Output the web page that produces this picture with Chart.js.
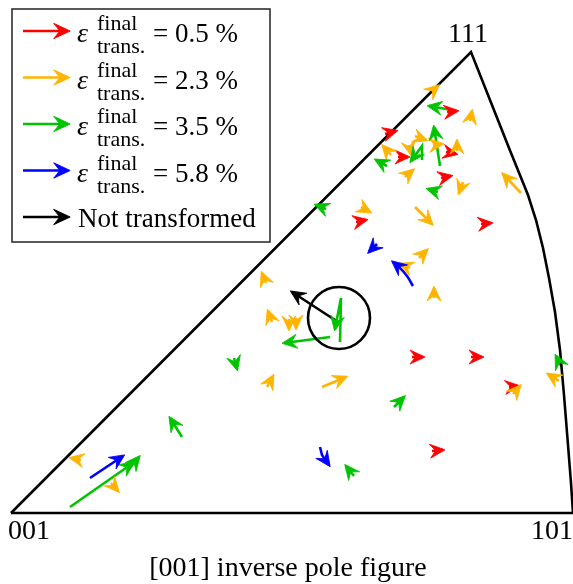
<!DOCTYPE html>
<html>
<head>
<meta charset="utf-8">
<script src="https://cdn.jsdelivr.net/npm/chart.js@4.4.0/dist/chart.umd.min.js"></script>
<style>
body { margin: 0; background: #fff; }
canvas { display: block; }
</style>
</head>
<body>
<canvas id="ipf" width="573" height="584"></canvas>
<script>
// Figure units: x to the right, y downwards
const boundaryX = [11, 471, 490, 509, 528, 536, 543, 549, 555, 560, 564, 568, 571, 573, 11];
const boundaryY = [513, 52, 100, 148, 195, 220, 248, 278, 312, 350, 395, 445, 483, 513, 513];

const legendLabels = ["0.5 %", "2.3 %", "3.5 %", "5.8 %", "Not transformed"];

// every arrow is a path [[x, y], ...], the head sits on the last point
const arrows05 = [
    [[447, 112], [457, 111]],
    [[385, 134], [396, 131]],
    [[398, 157], [408, 157]],
    [[446, 152], [456, 154]],
    [[441, 178], [451, 176]],
    [[356, 222], [366, 220]],
    [[481, 224], [491, 223]],
    [[412, 357], [423, 357]],
    [[471, 357], [482, 357]],
    [[509, 387], [518, 386]],
    [[432, 451], [443, 450]]
];
const arrows23 = [
    [[430, 93], [438, 86]],
    [[470, 121], [472, 111]],
    [[391, 155], [383, 146]],
    [[415, 136], [426, 140]],
    [[409, 145], [411, 154]],
    [[433, 145], [442, 144]],
    [[457, 151], [457, 141]],
    [[405, 177], [413, 170]],
    [[463, 182], [459, 193]],
    [[521, 193], [503, 174]],
    [[361, 207], [370, 212]],
    [[415, 207], [432, 224]],
    [[410, 268], [400, 264]],
    [[419, 258], [427, 250]],
    [[434, 298], [434, 288]],
    [[266, 283], [262, 273]],
    [[272, 322], [268, 311]],
    [[289, 319], [289, 329]],
    [[296, 318], [296, 328]],
    [[267, 387], [273, 376]],
    [[322, 387], [346, 377]],
    [[513, 394], [520, 386]],
    [[559, 381], [548, 374]],
    [[81, 460], [71, 458]],
    [[111, 483], [118, 491]]
];
const arrows35 = [
    [[452, 110], [429, 106]],
    [[387, 166], [376, 160]],
    [[422, 160], [422, 146], [411, 161]],
    [[440, 166], [434, 127]],
    [[438, 192], [428, 189]],
    [[326, 209], [316, 205]],
    [[340, 342], [341, 298], [335, 329]],
    [[330, 337], [284, 343]],
    [[234, 358], [237, 369]],
    [[394, 407], [404, 397]],
    [[561, 366], [556, 356]],
    [[354, 476], [346, 466]],
    [[182, 437], [170, 418]],
    [[70, 507], [133, 463]],
    [[129, 469], [139, 457]]
];
const arrows58 = [
    [[377, 244], [369, 252]],
    [[413, 286], [407, 276], [399, 267], [393, 262]],
    [[320, 447], [322, 455], [329, 465]],
    [[90, 478], [123, 456]]
];
const arrowsNone = [
    [[338, 322], [292, 292]]
];
const markedGrain = [[339, 318]];

const seriesArrows = [arrows05, arrows23, arrows35, arrows58, arrowsNone];
const seriesColors = ["#ff0000", "#ffb400", "#00c400", "#0000ff", "#000000"];

function drawHead(ctx, x, y, angle, color, size) {
    let s = size || 1;
    ctx.save();
    ctx.translate(x, y);
    ctx.rotate(angle);
    ctx.scale(s, s);
    ctx.fillStyle = color;
    ctx.strokeStyle = color;
    ctx.lineWidth = 0.8;
    ctx.lineJoin = "round";
    ctx.beginPath();
    ctx.moveTo(2, 0);
    ctx.lineTo(-13, -7);
    ctx.lineTo(-7.5, 0);
    ctx.lineTo(-13, 7);
    ctx.closePath();
    ctx.fill();
    ctx.stroke();
    ctx.restore();
}

let datasets = [];
datasets.push({
    data: boundaryX.map((x, i) => ({ x: x, y: boundaryY[i] })),
    showLine: true,
    borderColor: "#000",
    borderWidth: 2.6,
    pointRadius: 0,
    clip: false
});
datasets.push({
    data: markedGrain.map(p => ({ x: p[0], y: p[1] })),
    pointRadius: 31,
    pointBorderWidth: 2.6,
    pointBorderColor: "#000",
    pointBackgroundColor: "rgba(0,0,0,0)",
    clip: false
});
seriesArrows.forEach((list, k) => {
    list.forEach(path => {
        datasets.push({
            data: path.map(p => ({ x: p[0], y: p[1] })),
            showLine: true,
            borderColor: seriesColors[k],
            borderWidth: 2.6,
            pointRadius: 0,
            tension: path.length > 3 ? 0.4 : 0,
            arrowColor: seriesColors[k],
            clip: false
        });
    });
});

const arrowHeads = {
    id: "arrowHeads",
    afterDatasetsDraw(chart) {
        let ctx = chart.ctx;
        chart.data.datasets.forEach((ds, i) => {
            if (!ds.arrowColor) return;
            let pts = chart.getDatasetMeta(i).data;
            let a = pts[pts.length - 2], b = pts[pts.length - 1];
            drawHead(ctx, b.x, b.y, Math.atan2(b.y - a.y, b.x - a.x), ds.arrowColor);
        });
    }
};

const labelsAndLegend = {
    id: "labelsAndLegend",
    afterDraw(chart) {
        let ctx = chart.ctx;
        let xs = chart.scales.x, ys = chart.scales.y;
        let last = boundaryX.length - 2;
        ctx.save();
        ctx.fillStyle = "#000";
        ctx.textBaseline = "alphabetic";

        // corner labels of the stereographic triangle
        ctx.font = '28px "Liberation Serif"';
        ctx.textAlign = "left";
        ctx.fillText("001", xs.getPixelForValue(boundaryX[0]) - 3, ys.getPixelForValue(boundaryY[0]) + 26);
        ctx.textAlign = "right";
        ctx.fillText("101", xs.getPixelForValue(boundaryX[last]), ys.getPixelForValue(boundaryY[last]) + 26);
        ctx.textAlign = "center";
        ctx.fillText("111", xs.getPixelForValue(boundaryX[1]) - 3, ys.getPixelForValue(boundaryY[1]) - 10);
        ctx.fillText("[001] inverse pole figure", 288, 576);

        // legend box
        ctx.fillStyle = "#fff";
        ctx.fillRect(12, 9, 258, 233);
        ctx.strokeStyle = "#222";
        ctx.lineWidth = 1.5;
        ctx.strokeRect(12, 9, 258, 233);
        ctx.textAlign = "left";
        legendLabels.forEach((label, i) => {
            let cy = 31 + i * 46.5;
            ctx.strokeStyle = seriesColors[i];
            ctx.lineWidth = 2.6;
            ctx.beginPath();
            ctx.moveTo(23, cy);
            ctx.lineTo(62, cy);
            ctx.stroke();
            drawHead(ctx, 68, cy, 0, seriesColors[i], 1.1);
            ctx.fillStyle = "#000";
            if (i < 4) {
                ctx.font = 'italic 28px "Liberation Serif"';
                ctx.fillText("ε", 77, cy + 11);
                ctx.font = '22px "Liberation Serif"';
                ctx.fillText("final", 97, cy - 1);
                ctx.fillText("trans.", 97, cy + 22);
                ctx.font = '27px "Liberation Serif"';
                ctx.fillText("= " + label, 153, cy + 11);
            } else {
                ctx.font = '27px "Liberation Serif"';
                ctx.fillText(label, 78, cy + 10);
            }
        });
        ctx.restore();
    }
};

new Chart(document.getElementById("ipf"), {
    type: "scatter",
    data: { datasets: datasets },
    options: {
        responsive: false,
        animation: false,
        events: [],
        layout: { padding: 0, autoPadding: false },
        plugins: { legend: { display: false }, tooltip: { enabled: false } },
        scales: {
            x: { type: "linear", min: 0, max: 573, display: false },
            y: { type: "linear", min: 0, max: 584, reverse: true, display: false }
        }
    },
    plugins: [arrowHeads, labelsAndLegend]
});
</script>
</body>
</html>
